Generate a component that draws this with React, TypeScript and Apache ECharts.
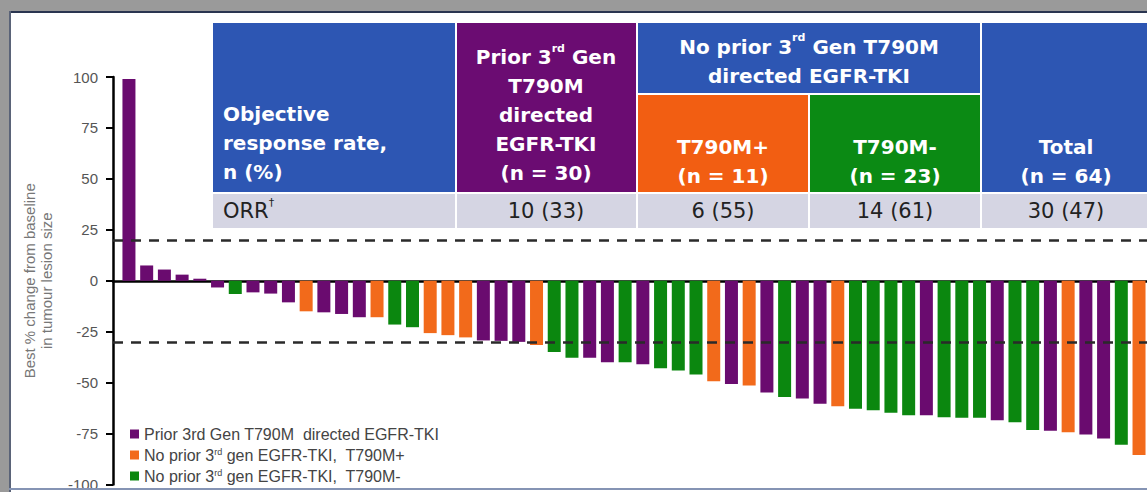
import React, { useEffect, useRef } from "react";
import * as echarts from "echarts";

// ---- data ----
const groupNames = {
  P: "Prior 3rd Gen T790M  directed EGFR-TKI",
  O: "No prior 3rd gen EGFR-TKI,  T790M+",
  G: "No prior 3rd gen EGFR-TKI,  T790M-",
};
const groupOrder = ["P", "O", "G"];
const groupColors = ["#6a0b6f", "#f26a1b", "#0b870f"];

const patientGroups = [
  "P","P","P","P","P","P","G","P","P","P",
  "O","P","P","P","O","G","G","O","O","O",
  "P","P","P","O","G","G","P","P","G","P",
  "G","G","G","O","P","O","P","G","P","P",
  "O","G","G","G","G","P","G","G","G","P",
  "G","G","P","O","P","P","G","O",
];
const bestChange = [
  99, 7.5, 5.5, 3, 1, -3.3, -6.5, -5.7, -6.3, -10.6,
  -15, -15.5, -16.3, -17.9, -17.9, -21.5, -22.8, -25.7, -26.7, -27.8,
  -29.3, -29.5, -30, -31.5, -35, -37.8, -37.8, -40, -40, -41,
  -43, -44, -46, -49.3, -50.7, -51.4, -54.8, -57, -57.8, -60.4,
  -61.6, -62.8, -63.6, -64.8, -66, -66, -67, -67.2, -67.2, -68.5,
  -69.5, -73.3, -73.6, -74.3, -75.4, -77.4, -80.5, -85.5,
];
const thresholds = [20, -30];
const yTicks = { min: -100, max: 100, interval: 25 };

const orrLabel = "ORR";
const orrValues = ["10 (33)", "6 (55)", "14 (61)", "30 (47)"];
const headerLeft = "Objective\nresponse rate,\nn (%)";
const headerPrior = "Prior 3{sw|rd} Gen\nT790M\ndirected\nEGFR-TKI\n(n = 30)";
const headerNoPrior = "No prior 3{sw|rd} Gen T790M\ndirected EGFR-TKI";
const headerPlus = "T790M+\n(n = 11)";
const headerMinus = "T790M-\n(n = 23)";
const headerTotal = "Total\n(n = 64)";

const BLUE = "#2d56b3";
const LAV = "#d5d5e3";
const HFONT = "DejaVu Sans, Liberation Sans, Arial, sans-serif";
const AFONT = "Liberation Sans, Arial, sans-serif";

export default function App() {
  const ref = useRef<HTMLDivElement>(null);
  useEffect(() => {
    document.body.style.margin = "0";
    const chart = echarts.init(ref.current!, null, { renderer: "svg" });

    const series: any[] = groupOrder.map((g, gi) => ({
      type: "bar",
      name: (groupNames as any)[g],
      barWidth: 13,
      barGap: "-100%",
      itemStyle: { color: groupColors[gi] },
      data: bestChange
        .map((v, i) => (patientGroups[i] === g ? [i + 1, v] : null))
        .filter((d) => d !== null),
    }));
    series[0].markLine = {
      silent: true,
      symbol: "none",
      label: { show: false },
      lineStyle: { type: [10, 8], color: "#2a2a2a", width: 2.5 },
      data: thresholds.map((t) => ({ yAxis: t })),
    };

    const hText = (x: number, y: number, text: string, align: string, fill = "#fff", weight = "bold", size = 20) => ({
      type: "text",
      x,
      y,
      z: 20,
      style: {
        text,
        align,
        verticalAlign: "middle",
        fill,
        fontFamily: HFONT,
        fontWeight: weight,
        fontSize: size,
        lineHeight: 29,
        rich: {
          sw: { fontSize: 11, fontWeight: "bold", fill, verticalAlign: "top", lineHeight: 22, fontFamily: HFONT },
          sd: { fontSize: 11, fill, verticalAlign: "top", lineHeight: 22, fontFamily: HFONT },
        },
      },
    });
    const rect = (x: number, y: number, w: number, h: number, fill: string, z = 10) => ({
      type: "rect",
      z,
      shape: { x, y, width: w, height: h },
      style: { fill },
    });

    const graphic: any[] = [
      // table
      rect(213, 23, 242, 169, BLUE),
      rect(457, 23, 179, 169, "#6b0c72"),
      rect(638, 23, 342, 70, BLUE),
      rect(638, 95, 170, 97, "#f25e12"),
      rect(810, 95, 170, 97, "#0b8a14"),
      rect(982, 23, 170, 169, BLUE),
      rect(213, 194, 242, 34, LAV),
      rect(457, 194, 179, 34, LAV),
      rect(638, 194, 170, 34, LAV),
      rect(810, 194, 170, 34, LAV),
      rect(982, 194, 170, 34, LAV),
      hText(223, 143, headerLeft, "left"),
      hText(546, 115, headerPrior, "center"),
      hText(809, 61, headerNoPrior, "center"),
      hText(723, 161, headerPlus, "center"),
      hText(895, 161, headerMinus, "center"),
      hText(1066, 161, headerTotal, "center"),
      hText(223, 211, orrLabel + "{sd|†}", "left", "#222", "normal", 21),
      ...orrValues.map((v, i) => hText([546, 723, 895, 1066][i], 211, v, "center", "#222", "normal", 21)),
      // frame
      rect(0, 0, 1147, 11, "#9a9a9a", 30),
      rect(0, 11, 1147, 2, "#2a3550", 30),
      rect(0, 0, 9, 492, "#9a9a9a", 30),
      rect(9, 11, 2, 481, "#5a6378", 30),
      rect(9, 488, 1138, 2, "#8594b4", 30),
    ];

    chart.setOption({
      animation: false,
      backgroundColor: "#ffffff",
      grid: { left: 113, right: 0, top: 77, bottom: 7, containLabel: false },
      legend: {
        orient: "vertical",
        left: 125,
        top: 421,
        icon: "rect",
        itemWidth: 9,
        itemHeight: 9,
        itemGap: 5,
        selectedMode: false,
        formatter: (name: string) => name.replace(/3rd gen/, "3{s|rd} gen"),
        textStyle: {
          fontFamily: AFONT,
          fontSize: 16,
          color: "#444",
          lineHeight: 16,
          rich: { s: { fontSize: 9, color: "#444", verticalAlign: "top", lineHeight: 11, fontFamily: AFONT } },
        },
      },
      xAxis: {
        type: "value",
        min: 0.1,
        max: 58.45,
        axisLine: { show: true, onZero: true, lineStyle: { color: "#000", width: 2.5 } },
        axisTick: { show: false },
        axisLabel: { show: false },
        splitLine: { show: false },
      },
      yAxis: {
        type: "value",
        min: yTicks.min,
        max: yTicks.max,
        interval: yTicks.interval,
        name: "Best % change from baseline\nin tumour lesion size",
        nameLocation: "middle",
        nameRotate: 90,
        nameGap: 58,
        nameTextStyle: { color: "#777", fontSize: 15, lineHeight: 17, fontFamily: AFONT },
        axisLine: { show: true, onZero: false, lineStyle: { color: "#000", width: 2.5 } },
        axisTick: { show: true, length: 7, lineStyle: { color: "#000", width: 2 } },
        axisLabel: { color: "#555", fontSize: 15, margin: 15, fontFamily: AFONT },
        splitLine: { show: false },
      },
      series,
      graphic,
    });
    return () => chart.dispose();
  }, []);
  return <div ref={ref} style={{ width: 1147, height: 492 }} />;
}
